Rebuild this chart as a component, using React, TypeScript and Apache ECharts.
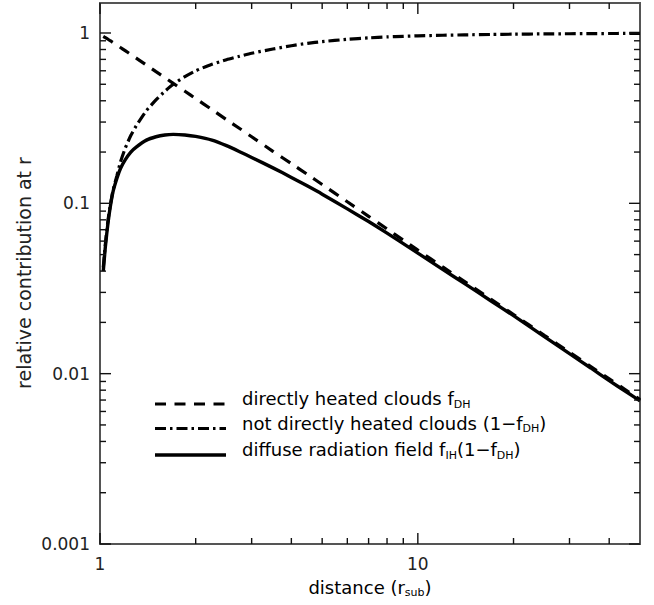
import React, { useEffect, useRef } from 'react';
import * as echarts from 'echarts';

// distance in units of r_sub
const distance = [1.024, 1.04, 1.06, 1.08, 1.1, 1.13, 1.16, 1.2, 1.25, 1.3, 1.4, 1.5, 1.6, 1.7, 1.85, 2, 2.25, 2.5, 2.75, 3, 3.5, 4, 4.5, 5, 6, 7, 8, 9, 10, 12, 14, 17, 20, 25, 30, 35, 40, 45, 50];
// directly heated clouds f_DH
const directlyHeated = [0.955, 0.939, 0.919, 0.898, 0.878, 0.85, 0.822, 0.788, 0.748, 0.712, 0.648, 0.593, 0.547, 0.506, 0.455, 0.412, 0.355, 0.31, 0.275, 0.246, 0.202, 0.171, 0.1475, 0.129, 0.1021, 0.0839, 0.0707, 0.0608, 0.0531, 0.0422, 0.0348, 0.0273, 0.02225, 0.0168, 0.01337, 0.01102, 0.00932, 0.00804, 0.00704];
// not directly heated clouds (1 - f_DH)
const notDirectlyHeated = [0.042, 0.058, 0.08, 0.1, 0.12, 0.145, 0.175, 0.21, 0.25, 0.285, 0.35, 0.405, 0.455, 0.5, 0.555, 0.6, 0.655, 0.697, 0.73, 0.76, 0.805, 0.842, 0.87, 0.89, 0.918, 0.936, 0.948, 0.956, 0.962, 0.97, 0.975, 0.98, 0.984, 0.988, 0.99, 0.992, 0.993, 0.994, 0.995];
// diffuse radiation field f_IH (1 - f_DH)
const diffuseField = [0.04, 0.056, 0.077, 0.098, 0.118, 0.14, 0.16, 0.18, 0.2, 0.214, 0.235, 0.246, 0.252, 0.254, 0.252, 0.247, 0.235, 0.218, 0.201, 0.186, 0.1615, 0.142, 0.1262, 0.1132, 0.0928, 0.0782, 0.0669, 0.058, 0.051, 0.0408, 0.0339, 0.0267, 0.0219, 0.0165, 0.0131, 0.0108, 0.0091, 0.00788, 0.00692];

const xMajorTicks = [1, 10];
const xMinorTicks = [2, 3, 4, 5, 6, 7, 8, 9, 20, 30, 40];
const yMajorTicks = [0.001, 0.01, 0.1, 1];
const yMinorTicks = [0.002, 0.003, 0.004, 0.005, 0.006, 0.007, 0.008, 0.009, 0.02, 0.03, 0.04, 0.05, 0.06, 0.07, 0.08, 0.09, 0.2, 0.3, 0.4, 0.5, 0.6, 0.7, 0.8, 0.9];

const X_MIN = 1;
const X_MAX = 50;
const Y_MIN = 0.001;
const Y_MAX = 1.5;

const FONT = 'DejaVu Sans';
const TXT = '#222';

export default function App() {
  const ref = useRef<HTMLDivElement>(null);

  useEffect(() => {
    if (!ref.current) return;
    const chart = echarts.init(ref.current, null, { renderer: 'svg' });

    const pair = (ys: number[]) => distance.map((x, i) => [x, ys[i]]);

    // tick items: [x, y, major, axis(0 = x, 1 = y)]
    const tickData: number[][] = [];
    xMajorTicks.forEach((v) => tickData.push([v, 1, 1, 0]));
    xMinorTicks.forEach((v) => tickData.push([v, 1, 0, 0]));
    yMajorTicks.forEach((v) => tickData.push([1, v, 1, 1]));
    yMinorTicks.forEach((v) => tickData.push([1, v, 0, 1]));

    const labelFmt = (v: number) => {
      const l = Math.log10(v);
      return Math.abs(l - Math.round(l)) < 1e-6 ? String(Number(v.toPrecision(3))) : '';
    };

    const rowY = [404, 428.5, 455];
    const textShift = -5.5;
    const legX1 = 155;
    const legX2 = 226;
    const legTX = 242;
    const main = { fontSize: 18, lineHeight: 22, fontFamily: FONT, color: TXT };
    const sub = { fontSize: 11, lineHeight: 6, verticalAlign: 'bottom', fontFamily: FONT, color: TXT };
    const subX = { fontSize: 11, lineHeight: 10, verticalAlign: 'bottom', fontFamily: FONT, color: TXT };

    const option: any = {
      animation: false,
      textStyle: { fontFamily: FONT },
      grid: {
        left: 100,
        right: 14,
        top: 3,
        bottom: 61,
        show: true,
        borderColor: '#555',
        borderWidth: 2,
        backgroundColor: 'transparent',
      },
      xAxis: {
        type: 'log',
        logBase: 10,
        min: X_MIN,
        max: X_MAX,
        axisLine: { show: false },
        axisTick: { show: false },
        splitLine: { show: false },
        axisLabel: { fontSize: 17, color: TXT, margin: 11, formatter: labelFmt },
      },
      yAxis: {
        type: 'log',
        logBase: 10,
        min: Y_MIN,
        max: Y_MAX,
        axisLine: { show: false },
        axisTick: { show: false },
        splitLine: { show: false },
        axisLabel: { fontSize: 17, color: TXT, margin: 10, formatter: labelFmt },
      },
      series: [
        {
          name: 'directly heated clouds',
          type: 'line',
          data: pair(directlyHeated),
          symbol: 'none',
          smooth: 0.2,
          lineStyle: { color: '#000', width: 3.2, type: [11, 8.5] },
          z: 3,
        },
        {
          name: 'not directly heated clouds',
          type: 'line',
          data: pair(notDirectlyHeated),
          symbol: 'none',
          smooth: 0.2,
          lineStyle: { color: '#000', width: 3.2, type: [11, 4, 2.5, 4] },
          z: 3,
        },
        {
          name: 'diffuse radiation field',
          type: 'line',
          data: pair(diffuseField),
          symbol: 'none',
          smooth: 0.2,
          lineStyle: { color: '#000', width: 3.4, type: 'solid' },
          z: 3,
        },
        {
          type: 'custom',
          data: tickData,
          encode: { x: 0, y: 1 },
          silent: true,
          z: 4,
          renderItem: (params: any, api: any) => {
            const cs = params.coordSys;
            const major = api.value(2) === 1;
            const axis = api.value(3);
            const len = major ? 11 : 6;
            const st = { stroke: '#111', lineWidth: 1.4 };
            if (axis === 0) {
              const px = api.coord([api.value(0), 1])[0];
              const yb = cs.y + cs.height;
              return {
                type: 'group',
                children: [
                  { type: 'line', shape: { x1: px, y1: yb, x2: px, y2: yb - len }, style: st },
                  { type: 'line', shape: { x1: px, y1: cs.y, x2: px, y2: cs.y + len }, style: st },
                ],
              };
            }
            const py = api.coord([1, api.value(1)])[1];
            const xr = cs.x + cs.width;
            return {
              type: 'group',
              children: [
                { type: 'line', shape: { x1: cs.x, y1: py, x2: cs.x + len, y2: py }, style: st },
                { type: 'line', shape: { x1: xr, y1: py, x2: xr - len, y2: py }, style: st },
              ],
            };
          },
        },
      ],
      graphic: [
        {
          type: 'text',
          x: 370,
          y: 587,
          style: {
            text: '{a|distance (r}{s|sub}{a|)}',
            rich: { a: main, s: subX },
            align: 'center',
            verticalAlign: 'middle',
          },
        },
        {
          type: 'text',
          x: 24,
          y: 273,
          rotation: Math.PI / 2,
          style: {
            text: 'relative contribution at r',
            fontSize: 19,
            fontFamily: FONT,
            fill: TXT,
            align: 'center',
            verticalAlign: 'middle',
          },
        },
        {
          type: 'line',
          shape: { x1: legX1, y1: rowY[0], x2: legX2, y2: rowY[0] },
          style: { stroke: '#000', lineWidth: 3.2, lineDash: [11, 8.5] },
        },
        {
          type: 'line',
          shape: { x1: legX1, y1: rowY[1], x2: legX2, y2: rowY[1] },
          style: { stroke: '#000', lineWidth: 3.2, lineDash: [11, 4, 2.5, 4] },
        },
        {
          type: 'line',
          shape: { x1: legX1, y1: rowY[2], x2: legX2, y2: rowY[2] },
          style: { stroke: '#000', lineWidth: 3.4 },
        },
        {
          type: 'text',
          x: legTX,
          y: rowY[0] + textShift,
          style: {
            text: '{a|directly heated clouds f}{s|DH}',
            rich: { a: main, s: sub },
            align: 'left',
            verticalAlign: 'middle',
          },
        },
        {
          type: 'text',
          x: legTX,
          y: rowY[1] + textShift,
          style: {
            text: '{a|not directly heated clouds (1\u2212f}{s|DH}{a|)}',
            rich: { a: main, s: sub },
            align: 'left',
            verticalAlign: 'middle',
          },
        },
        {
          type: 'text',
          x: legTX,
          y: rowY[2] + textShift,
          style: {
            text: '{a|diffuse radiation field f}{s|IH}{a|(1\u2212f}{s|DH}{a|)}',
            rich: { a: main, s: sub },
            align: 'left',
            verticalAlign: 'middle',
          },
        },
      ],
    };

    chart.setOption(option);
    return () => chart.dispose();
  }, []);

  return (
    <div
      ref={ref}
      style={{ position: 'absolute', left: 0, top: 0, width: 654, height: 605, background: '#fff' }}
    />
  );
}
